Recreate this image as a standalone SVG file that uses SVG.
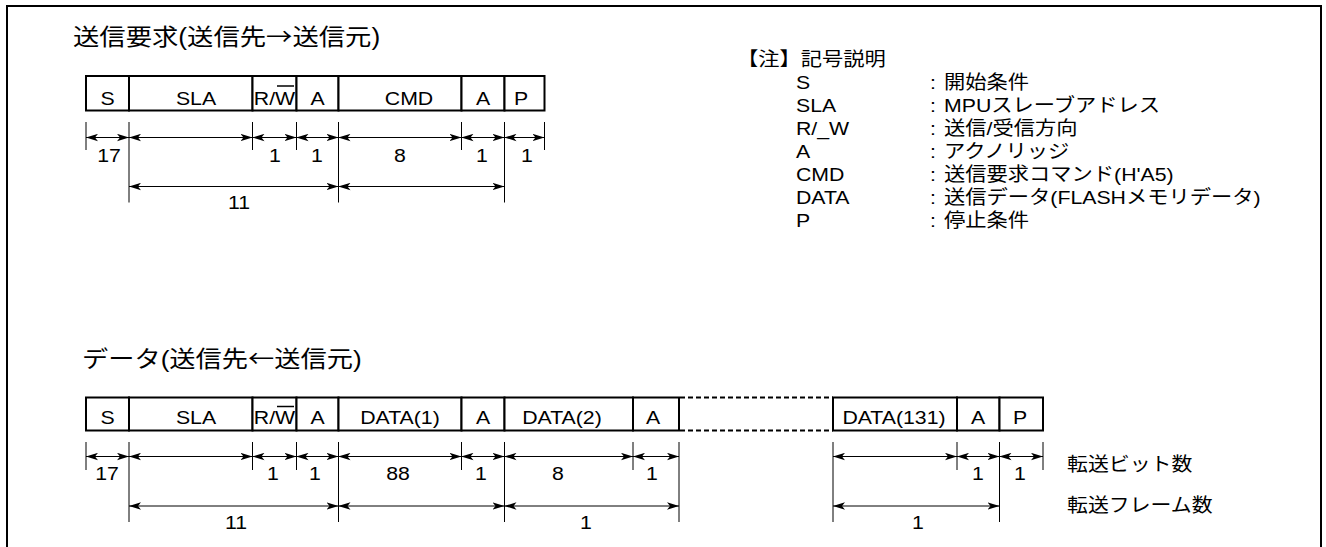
<svg xmlns="http://www.w3.org/2000/svg" width="1326" height="547" viewBox="0 0 1326 547">
<defs>
<marker id="ah" viewBox="0 0 12 8" refX="12" refY="4" markerWidth="12" markerHeight="8" markerUnits="userSpaceOnUse" orient="auto-start-reverse"><path d="M0,0.3 L12,4 L0,7.7 L3,4 Z" fill="#000"/></marker>
</defs>
<style>
text{font-family:"Liberation Sans","Noto Sans CJK JP",sans-serif;fill:#000}
.cj{font-family:"Noto Sans CJK JP",sans-serif}
.t{font-size:23px}
.b{font-size:19px;text-anchor:middle}
.l{font-size:19px}
.box{fill:#fff;stroke:#000;stroke-width:2}
.dash{stroke:#000;stroke-width:2;stroke-dasharray:5 3;fill:none}
.tk{stroke:#000;stroke-width:1}
.dim{stroke:#000;stroke-width:1;fill:none;marker-start:url(#ah);marker-end:url(#ah)}
.ov{stroke:#000;stroke-width:1.5}
.frame{fill:none;stroke:#000;stroke-width:2}
</style>
<rect width="1326" height="547" fill="#fff"/>
<path class="frame" d="M7,547 V6 H1321 V547"/>

<text id="title-top" class="t" transform="translate(73 45) scale(1.145 1)">送信要求(送信先<tspan class="cj">→</tspan>送信元)</text>
<text id="title-bottom" class="t" transform="translate(82 367) scale(1.14 1)">データ(送信先<tspan class="cj">←</tspan>送信元)</text>

<g id="legend">
<text class="l" transform="translate(737 65.5) scale(1.12 1)">【注】記号説明</text>
<text class="l" transform="translate(796 88.5) scale(1.12 1)">S</text>
<text class="l" transform="translate(796 111.5) scale(1.12 1)">SLA</text>
<text class="l" transform="translate(796 134.5) scale(1.12 1)">R/_W</text>
<text class="l" transform="translate(796 157.5) scale(1.12 1)">A</text>
<text class="l" transform="translate(796 180.5) scale(1.12 1)">CMD</text>
<text class="l" transform="translate(796 203.5) scale(1.12 1)">DATA</text>
<text class="l" transform="translate(796 226.5) scale(1.12 1)">P</text>
<text class="l" transform="translate(930 88.5) scale(1.12 1)">:</text>
<text class="l" transform="translate(930 111.5) scale(1.12 1)">:</text>
<text class="l" transform="translate(930 134.5) scale(1.12 1)">:</text>
<text class="l" transform="translate(930 157.5) scale(1.12 1)">:</text>
<text class="l" transform="translate(930 180.5) scale(1.12 1)">:</text>
<text class="l" transform="translate(930 203.5) scale(1.12 1)">:</text>
<text class="l" transform="translate(930 226.5) scale(1.12 1)">:</text>
<text class="l" transform="translate(944 88.5) scale(1.12 1)">開始条件</text>
<text class="l" transform="translate(944 111.5) scale(1.12 1)">MPUスレーブアドレス</text>
<text class="l" transform="translate(944 134.5) scale(1.12 1)">送信/受信方向</text>
<text class="l" transform="translate(944 157.5) scale(1.12 1)">アクノリッジ</text>
<text class="l" transform="translate(944 180.5) scale(1.12 1)">送信要求コマンド(H'A5)</text>
<text class="l" transform="translate(944 203.5) scale(1.12 1)">送信データ(FLASHメモリデータ)</text>
<text class="l" transform="translate(944 226.5) scale(1.12 1)">停止条件</text>
</g>

<!-- top frame -->
<g id="top-S"><rect class="box" x="86" y="76" width="43" height="34.5"/><text class="b" transform="translate(107.5 105) scale(1.12 1)">S</text></g>
<g id="top-SLA"><rect class="box" x="129" y="76" width="123.5" height="34.5"/><text class="b" transform="translate(196 105) scale(1.12 1)">SLA</text></g>
<g id="top-RW"><rect class="box" x="252.5" y="76" width="44" height="34.5"/><text class="b" transform="translate(274.5 105) scale(1.12 1)">R/W</text><line class="ov" x1="277" y1="86" x2="294" y2="86"/></g>
<g id="top-A1"><rect class="box" x="296.5" y="76" width="42" height="34.5"/><text class="b" transform="translate(317.5 105) scale(1.12 1)">A</text></g>
<g id="top-CMD"><rect class="box" x="338.5" y="76" width="123" height="34.5"/><text class="b" transform="translate(409 105) scale(1.12 1)">CMD</text></g>
<g id="top-A2"><rect class="box" x="461.5" y="76" width="43" height="34.5"/><text class="b" transform="translate(483 105) scale(1.12 1)">A</text></g>
<g id="top-P"><rect class="box" x="504.5" y="76" width="40" height="34.5"/><text class="b" transform="translate(521 105) scale(1.12 1)">P</text></g>

<!-- bottom frame -->
<g id="bot-S"><rect class="box" x="86" y="397.5" width="43" height="33"/><text class="b" transform="translate(107.5 423.5) scale(1.12 1)">S</text></g>
<g id="bot-SLA"><rect class="box" x="129" y="397.5" width="123.5" height="33"/><text class="b" transform="translate(196 423.5) scale(1.12 1)">SLA</text></g>
<g id="bot-RW"><rect class="box" x="252.5" y="397.5" width="44" height="33"/><text class="b" transform="translate(274.5 423.5) scale(1.12 1)">R/W</text><line class="ov" x1="277" y1="406.5" x2="294" y2="406.5"/></g>
<g id="bot-A1"><rect class="box" x="296.5" y="397.5" width="42" height="33"/><text class="b" transform="translate(317.5 423.5) scale(1.12 1)">A</text></g>
<g id="bot-DATA1"><rect class="box" x="338.5" y="397.5" width="123" height="33"/><text class="b" transform="translate(400 423.5) scale(1.12 1)">DATA(1)</text></g>
<g id="bot-A2"><rect class="box" x="461.5" y="397.5" width="43" height="33"/><text class="b" transform="translate(483 423.5) scale(1.12 1)">A</text></g>
<g id="bot-DATA2"><rect class="box" x="504.5" y="397.5" width="128.5" height="33"/><text class="b" transform="translate(562 423.5) scale(1.12 1)">DATA(2)</text></g>
<g id="bot-A3"><rect class="box" x="633" y="397.5" width="46" height="33"/><text class="b" transform="translate(653 423.5) scale(1.12 1)">A</text></g>
<g id="bot-gap"><line class="dash" x1="680" y1="397.5" x2="833" y2="397.5"/><line class="dash" x1="680" y1="430.5" x2="833" y2="430.5"/></g>
<g id="bot-DATA131"><rect class="box" x="833" y="397.5" width="124" height="33"/><text class="b" transform="translate(894 423.5) scale(1.12 1)">DATA(131)</text></g>
<g id="bot-A4"><rect class="box" x="957" y="397.5" width="42.5" height="33"/><text class="b" transform="translate(978 423.5) scale(1.12 1)">A</text></g>
<g id="bot-P"><rect class="box" x="999.5" y="397.5" width="43.5" height="33"/><text class="b" transform="translate(1020 423.5) scale(1.12 1)">P</text></g>

<g id="connectors">
<path class="tk" d="M86,122V150 M252.5,122V150 M296.5,122V150 M461.5,122V150 M544.5,122V150 M129,122V202.5 M338.5,122V202.5 M504.5,122V202.5"/>
<line class="dim" x1="86" y1="137.5" x2="129" y2="137.5"/>
<line class="dim" x1="129" y1="137.5" x2="252.5" y2="137.5"/>
<line class="dim" x1="252.5" y1="137.5" x2="296.5" y2="137.5"/>
<line class="dim" x1="296.5" y1="137.5" x2="338.5" y2="137.5"/>
<line class="dim" x1="338.5" y1="137.5" x2="461.5" y2="137.5"/>
<line class="dim" x1="461.5" y1="137.5" x2="504.5" y2="137.5"/>
<line class="dim" x1="504.5" y1="137.5" x2="544.5" y2="137.5"/>
<line class="dim" x1="129" y1="186.5" x2="338.5" y2="186.5"/>
<line class="dim" x1="338.5" y1="186.5" x2="504.5" y2="186.5"/>
<path class="tk" d="M86,442V470 M252.5,442V470 M296.5,442V470 M461.5,442V470 M633,442V470 M957,442V470 M1043,442V470 M129,442V522 M338.5,442V522 M504.5,442V522 M679,442V522 M833,442V522 M999.5,442V522"/>
<line class="dim" x1="86" y1="456.5" x2="129" y2="456.5"/>
<line class="dim" x1="129" y1="456.5" x2="252.5" y2="456.5"/>
<line class="dim" x1="252.5" y1="456.5" x2="296.5" y2="456.5"/>
<line class="dim" x1="296.5" y1="456.5" x2="338.5" y2="456.5"/>
<line class="dim" x1="338.5" y1="456.5" x2="461.5" y2="456.5"/>
<line class="dim" x1="461.5" y1="456.5" x2="504.5" y2="456.5"/>
<line class="dim" x1="504.5" y1="456.5" x2="633" y2="456.5"/>
<line class="dim" x1="633" y1="456.5" x2="679" y2="456.5"/>
<line class="dim" x1="833" y1="456.5" x2="957" y2="456.5"/>
<line class="dim" x1="957" y1="456.5" x2="999.5" y2="456.5"/>
<line class="dim" x1="999.5" y1="456.5" x2="1043" y2="456.5"/>
<line class="dim" x1="129" y1="506" x2="338.5" y2="506"/>
<line class="dim" x1="338.5" y1="506" x2="504.5" y2="506"/>
<line class="dim" x1="504.5" y1="506" x2="679" y2="506"/>
<line class="dim" x1="833" y1="506" x2="999.5" y2="506"/>
</g>

<g id="dim-labels">
<text class="b" transform="translate(109 162) scale(1.12 1)">17</text>
<text class="b" transform="translate(275 162) scale(1.12 1)">1</text>
<text class="b" transform="translate(317 162) scale(1.12 1)">1</text>
<text class="b" transform="translate(400 162) scale(1.12 1)">8</text>
<text class="b" transform="translate(482 162) scale(1.12 1)">1</text>
<text class="b" transform="translate(527 162) scale(1.12 1)">1</text>
<text class="b" transform="translate(239 209) scale(1.12 1)">11</text>
<text class="b" transform="translate(107 480) scale(1.12 1)">17</text>
<text class="b" transform="translate(273 480) scale(1.12 1)">1</text>
<text class="b" transform="translate(315 480) scale(1.12 1)">1</text>
<text class="b" transform="translate(398 480) scale(1.12 1)">88</text>
<text class="b" transform="translate(481 480) scale(1.12 1)">1</text>
<text class="b" transform="translate(558 480) scale(1.12 1)">8</text>
<text class="b" transform="translate(652 480) scale(1.12 1)">1</text>
<text class="b" transform="translate(978 480) scale(1.12 1)">1</text>
<text class="b" transform="translate(1020 480) scale(1.12 1)">1</text>
<text class="b" transform="translate(236 529) scale(1.12 1)">11</text>
<text class="b" transform="translate(586 529) scale(1.12 1)">1</text>
<text class="b" transform="translate(918 529) scale(1.12 1)">1</text>
<text class="l" transform="translate(1067 471) scale(1.1 1)">転送ビット数</text>
<text class="l" transform="translate(1067 512) scale(1.1 1)">転送フレーム数</text>
</g>
</svg>
